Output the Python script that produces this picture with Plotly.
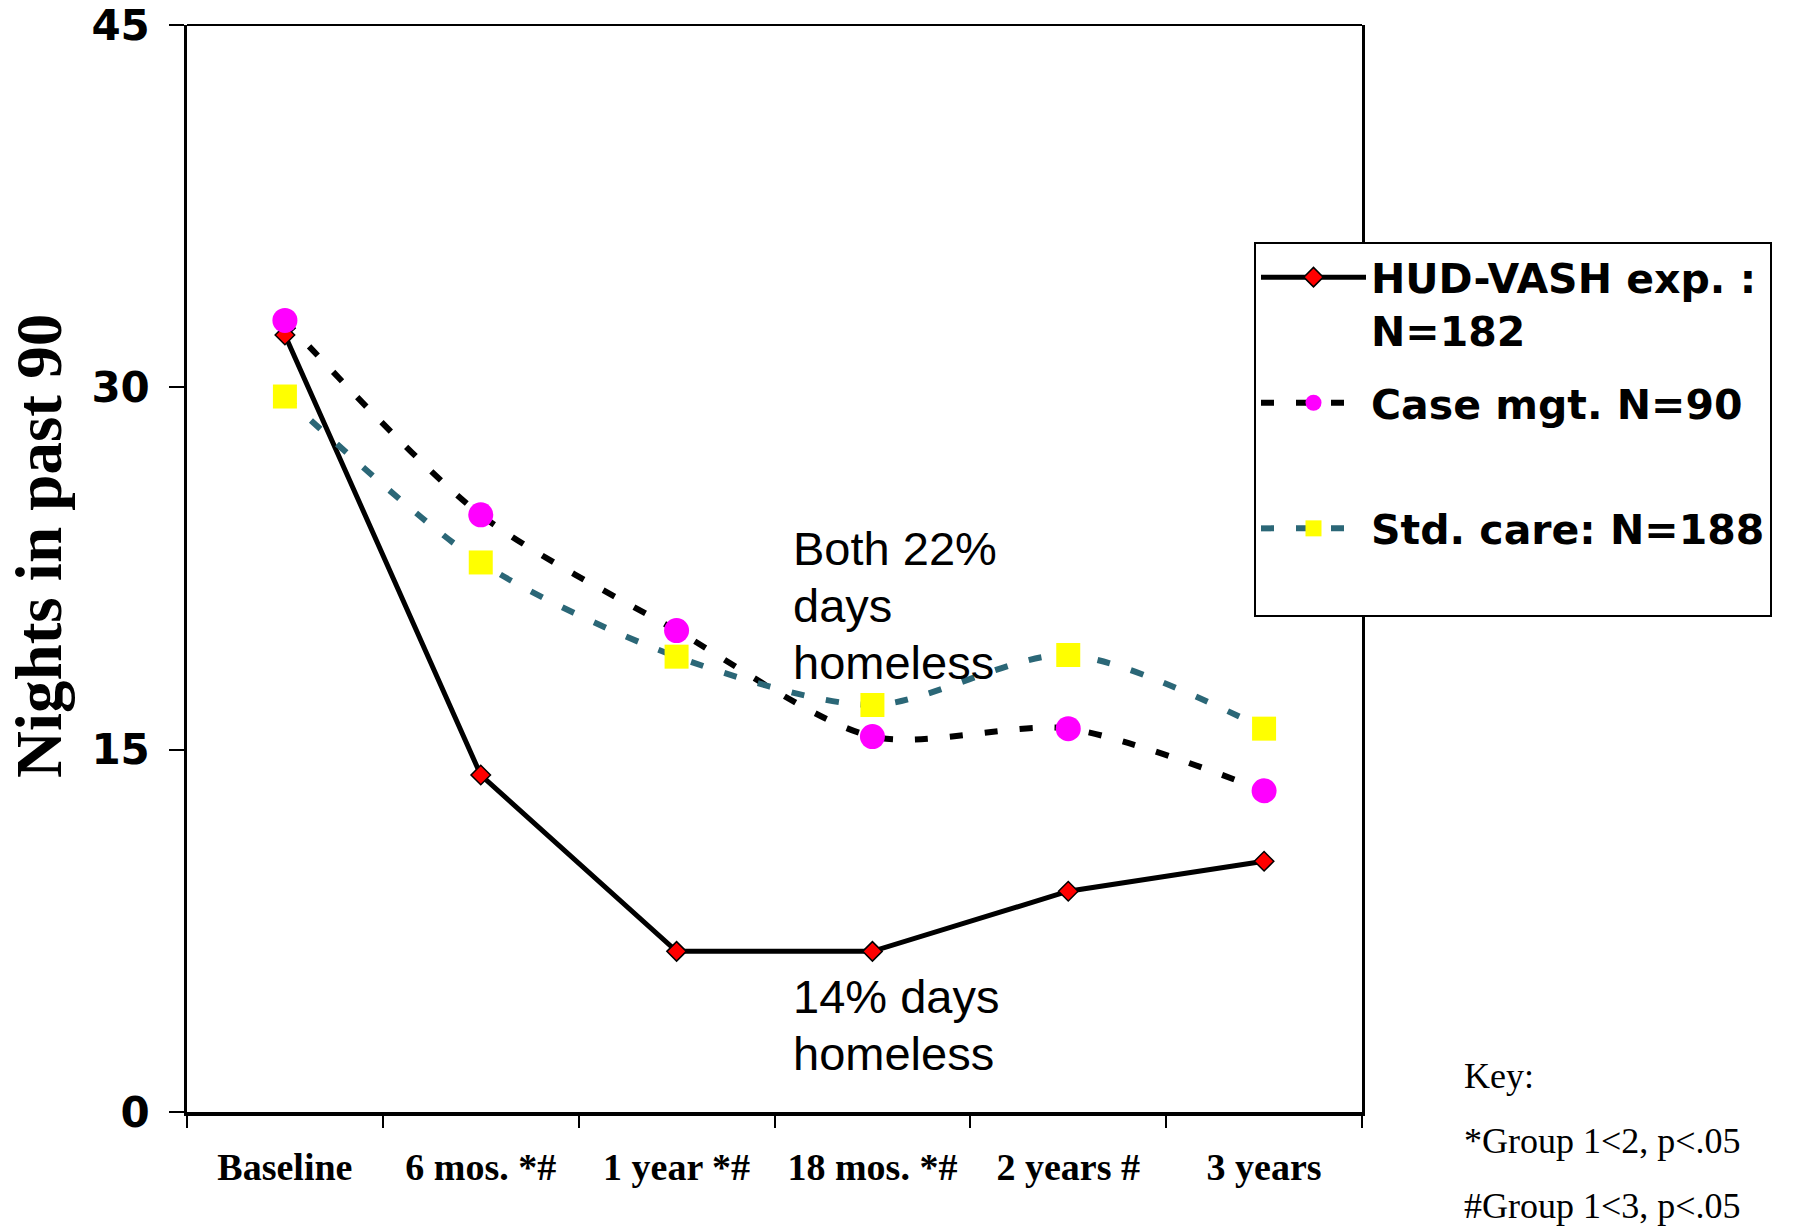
import plotly.graph_objects as go

categories = ["Baseline", "6 mos. *#", "1 year *#", "18 mos. *#", "2 years #", "3 years"]
hud_vash = [32.17, 13.95, 6.65, 6.65, 9.14, 10.38]
case_mgt = [32.77, 24.72, 19.93, 15.54, 15.87, 13.30]
std_care = [29.62, 22.75, 18.85, 16.85, 18.92, 15.87]
series_names = ["HUD-VASH exp. :<br>N=182", "Case mgt. N=90<br>\u00a0", "Std. care: N=188<br>\u00a0"]
y_ticks = [0, 15, 30, 45]
y_title = "Nights in past 90"
note_both = ["Both 22%", "days", "homeless"]
note_hud = ["14% days", "homeless"]
key_lines = ["Key:", "*Group 1<2, p<.05", "#Group 1<3, p<.05"]

W, H = 1801, 1230
L, R, T, B = 187, 1362, 25, 1112


def px_x(p):
    return (p - L) / (R - L)


def px_y(p):
    return (B - p) / (B - T)


fig = go.Figure()
fig.add_trace(go.Scatter(
    x=categories, y=hud_vash, name=series_names[0], mode="lines+markers", legendgroup="g1",
    line=dict(color="black", width=5),
    marker=dict(symbol="diamond", size=15, color="#FF0000", line=dict(color="black", width=1.5)),
))
fig.add_trace(go.Scatter(
    x=categories, y=case_mgt, name=series_names[1], mode="lines+markers", legendgroup="g2",
    line=dict(color="black", width=6, dash="13px,22px", shape="spline", smoothing=0.8),
    marker=dict(symbol="circle", size=25, color="#FF00FF"),
))
fig.add_trace(go.Scatter(
    x=categories, y=std_care, name=series_names[2], mode="lines+markers", legendgroup="g3",
    line=dict(color="#2B6777", width=6, dash="13px,22px", shape="spline", smoothing=0.8),
    marker=dict(symbol="square", size=24, color="#FFFF00"),
))

annotations = []
for i, t in enumerate(note_both):
    annotations.append(dict(text=t, x=px_x(791), y=px_y(548 + 57 * i), xref="paper", yref="paper",
                            xanchor="left", yanchor="middle", showarrow=False,
                            font=dict(family="Liberation Sans", size=47, color="black")))
for i, t in enumerate(note_hud):
    annotations.append(dict(text=t, x=px_x(791), y=px_y(996 + 57 * i), xref="paper", yref="paper",
                            xanchor="left", yanchor="middle", showarrow=False,
                            font=dict(family="Liberation Sans", size=47, color="black")))
for i, t in enumerate(key_lines):
    annotations.append(dict(text=t.replace("<", "&lt;"), x=px_x(1463), y=px_y(1076 + 65 * i),
                            xref="paper", yref="paper", borderpad=0,
                            xanchor="left", yanchor="middle", showarrow=False,
                            font=dict(family="Liberation Serif", size=36, color="black")))
annotations.append(dict(text=y_title, x=px_x(39), y=px_y(546), xref="paper", yref="paper",
                        xanchor="center", yanchor="middle", showarrow=False, textangle=-90,
                        font=dict(family="Liberation Serif", size=65, color="black", weight="bold")))

fig.update_layout(
    width=W, height=H,
    margin=dict(l=L, r=W - R, t=T, b=H - B, autoexpand=False),
    paper_bgcolor="white", plot_bgcolor="white",
    annotations=annotations,
    shapes=[dict(type="line", xref="paper", yref="paper", x0=0, x1=1, y0=1, y1=1,
                 line=dict(color="black", width=2))],
    legend=dict(
        x=px_x(1254), y=px_y(242), xanchor="left", yanchor="top",
        font=dict(family="DejaVu Sans", size=41, color="black", weight="bold"),
        bordercolor="black", borderwidth=2, bgcolor="white",
        itemwidth=105, valign="top", tracegroupgap=16, traceorder="grouped",
    ),
    showlegend=True,
)
fig.update_xaxes(
    type="category", range=[-0.5, 5.5], tickson="boundaries", automargin=False,
    ticks="outside", ticklen=12, tickwidth=2, tickcolor="black",
    showline=True, linewidth=4, linecolor="black", showgrid=False,
    tickfont=dict(family="Liberation Serif", size=38, color="black", weight="bold"),
    ticklabelstandoff=18,
)
fig.update_yaxes(
    range=[0, 45], tickmode="array", tickvals=y_ticks, automargin=False,
    ticks="outside", ticklen=15, tickwidth=2, tickcolor="black",
    showline=True, linewidth=2.5, linecolor="black", mirror=True,
    showgrid=False, zeroline=False,
    tickfont=dict(family="DejaVu Sans", size=42, color="black", weight="bold"),
    ticklabelstandoff=11,
)

fig.write_html("out.html")
